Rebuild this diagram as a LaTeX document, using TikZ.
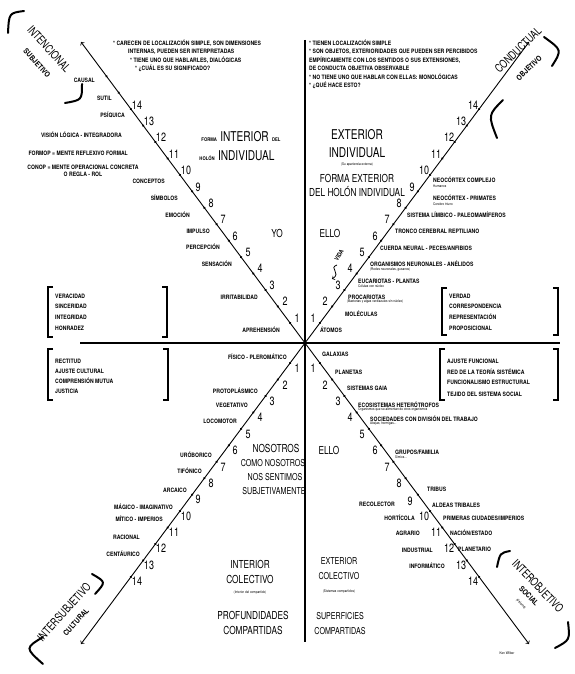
\documentclass[tikz,border=0pt]{standalone}
\usepackage{fontspec}
\usetikzlibrary{calc}
\newfontfamily\letraf[FakeStretch=0.85]{TeX Gyre Heros}
\newfontfamily\cifraf[FakeStretch=0.75]{TeX Gyre Heros}

\begin{document}
\begin{tikzpicture}[
  x=1pt, y=-1pt,
  eje/.style={->, line width=0.9pt},
  marca/.style={line width=2.4pt, line cap=round, dash pattern=on 0.1pt off 20.4pt},
  lbl/.style={font=\letraf\bfseries\fontsize{6}{6}\selectfont, inner sep=0pt},
  sub/.style={font=\letraf\fontsize{3.6}{4}\selectfont, inner sep=0pt},
  num/.style={font=\cifraf\fontsize{12}{12}\selectfont, inner sep=0pt},
  medio/.style={font=\cifraf\fontsize{11}{11}\selectfont, inner sep=0pt},
  menor/.style={font=\cifraf\fontsize{9.5}{9.5}\selectfont, inner sep=0pt},
  gran/.style={font=\cifraf\fontsize{13.5}{13.5}\selectfont, inner sep=0pt},
  titulo/.style={font=\cifraf\fontsize{11.5}{11.5}\selectfont, inner sep=0pt},
  subtitulo/.style={font=\letraf\bfseries\fontsize{7.5}{7.5}\selectfont, inner sep=0pt},
  paren/.style={line width=2pt, line cap=round},
  corchete/.style={line width=1.1pt}
]
\useasboundingbox (0,0) rectangle (574,674);

% cuadrantes
\coordinate (O) at (305,343);
\coordinate (ul) at (81,42);
\coordinate (ur) at (529,42);
\coordinate (ll) at (81,644);
\coordinate (lr) at (529,644);
\coordinate (top) at (305,40);
\coordinate (bot) at (305,642);
\coordinate (west) at (80,343);
\coordinate (east) at (560,343);

\draw[line width=1.4pt] (top) -- (bot);
\draw[line width=1.8pt] (west) -- (east);

\draw[eje] (O) -- (ul);
\draw[eje] (O) -- (ur);
\draw[eje] (O) -- (ll);
\draw[eje] (O) -- (lr);

\draw[marca] ($(O)!0.0666!(ul)$) -- ($(O)!0.8862!(ul)$);
\draw[marca] ($(O)!0.0666!(ur)$) -- ($(O)!0.8315!(ur)$);
\draw[marca] ($(O)!0.0666!(ll)$) -- ($(O)!0.8315!(ll)$);
\draw[marca] ($(O)!0.0666!(lr)$) -- ($(O)!0.8315!(lr)$);

% etiquetas de los ejes
\node[titulo, rotate=-48] (intencional) at (49,49) {INTENCIONAL};
\node[subtitulo, rotate=-48] (subjetivo) at (37,63) {SUBJETIVO};
\node[titulo, rotate=44] (conductual) at (518,50) {CONDUCTUAL};
\node[subtitulo, rotate=44] (objetivo) at (529,68) {OBJETIVO};
\node[titulo, rotate=48] (intersubjetivo) at (64,612) {INTERSUBJETIVO};
\node[subtitulo, rotate=48] (cultural) at (76,622) {CULTURAL};
\node[titulo, rotate=-46] (interobjetivo) at (538,586) {INTEROBJETIVO};
\node[subtitulo, rotate=-46] (social) at (529,596) {SOCIAL};
\node[sub, rotate=-46] (sistema) at (521,604) {(sistema)};

\draw[paren] (24,11) .. controls (9,13) .. (8,33);
\draw[paren] (82,84) .. controls (82,100) .. (65,103);
\draw[paren] (503,100) .. controls (488,115) .. (497,138);
\draw[paren] (544,37) .. controls (562,50) .. (552,66);
\draw[paren] (43,637) .. controls (25,648) .. (43,664);
\draw[paren] (92,574) .. controls (106,582) .. (95,594);
\draw[paren] (510,551) .. controls (500,553) .. (497,567);
\draw[paren] (568,622) .. controls (570,640) .. (555,648);

% textos superiores
\node[lbl, anchor=west] (tl1) at (113,43) {* CARECEN DE LOCALIZACIÓN SIMPLE, SON DIMENSIONES};
\node[lbl, anchor=west] (tl2) at (128,52) {INTERNAS, PUEDEN SER INTERPRETADAS};
\node[lbl, anchor=west] (tl3) at (130,60) {* TIENE UNO QUE HABLARLES, DIALÓGICAS};
\node[lbl, anchor=west] (tl4) at (135,68) {* ¿CUÁL ES SU SIGNIFICADO?};

\node[lbl, anchor=west] (tr1) at (309,43) {* TIENEN LOCALIZACIÓN SIMPLE};
\node[lbl, anchor=west] (tr2) at (309,52) {* SON OBJETOS, EXTERIORIDADES QUE PUEDEN SER PERCIBIDOS};
\node[lbl, anchor=west] (tr3) at (309,60) {EMPÍRICAMENTE CON LOS SENTIDOS O SUS EXTENSIONES,};
\node[lbl, anchor=west] (tr4) at (309,68) {DE CONDUCTA OBJETIVA OBSERVABLE};
\node[lbl, anchor=west] (tr5) at (309,77) {* NO TIENE UNO QUE HABLAR CON ELLAS: MONOLÓGICAS};
\node[lbl, anchor=west] (tr6) at (309,85) {* ¿QUÉ HACE ESTO?};

% cuadrante superior izquierdo
\node[lbl, anchor=east] (causal) at (95,80) {CAUSAL};
\node[lbl, anchor=east] (sutil) at (112,98) {SUTIL};
\node[lbl, anchor=east] (psiquica) at (125,115) {PSÍQUICA};
\node[lbl, anchor=east] (vision) at (122,135) {VISIÓN LÓGICA - INTEGRADORA};
\node[lbl, anchor=east] (formop) at (128,153) {FORMOP = MENTE REFLEXIVO FORMAL};
\node[lbl, align=center] (conop) at (83,171) {CONOP = MENTE OPERACIONAL CONCRETA\\[1pt]O REGLA - ROL};
\node[lbl, anchor=east] (conceptos) at (165,181) {CONCEPTOS};
\node[lbl, anchor=east] (simbolos) at (178,198) {SÍMBOLOS};
\node[lbl, anchor=east] (emocion) at (190,215) {EMOCIÓN};
\node[lbl, anchor=east] (impulso) at (210,231) {IMPULSO};
\node[lbl, anchor=east] (percepcion) at (220,247) {PERCEPCIÓN};
\node[lbl, anchor=east] (sensacion) at (232,264) {SENSACIÓN};
\node[lbl, anchor=east] (irritabilidad) at (258,297) {IRRITABILIDAD};
\node[lbl, anchor=east] (aprehension) at (280,330) {APREHENSIÓN};

\node[num] (ul1) at (297,318) {1};
\node[num] (ul2) at (285,301) {2};
\node[num] (ul3) at (272,285) {3};
\node[num] (ul4) at (260,268) {4};
\node[num] (ul5) at (248,252) {5};
\node[num] (ul6) at (235,236) {6};
\node[num] (ul7) at (223,219) {7};
\node[num] (ul8) at (211,203) {8};
\node[num] (ul9) at (198,187) {9};
\node[num] (ul10) at (186,170) {10};
\node[num] (ul11) at (174,154) {11};
\node[num] (ul12) at (161,137) {12};
\node[num] (ul13) at (149,121) {13};
\node[num] (ul14) at (137,105) {14};

\node[inner sep=0pt] (interior) at (241,137)
  {{\letraf\bfseries\fontsize{5}{5}\selectfont FORMA} {\cifraf\fontsize{13.5}{13.5}\selectfont INTERIOR} {\letraf\bfseries\fontsize{5}{5}\selectfont DEL}};
\node[inner sep=0pt] (holon) at (237,156)
  {{\letraf\bfseries\fontsize{5}{5}\selectfont HOLÓN} {\cifraf\fontsize{13.5}{13.5}\selectfont INDIVIDUAL}};
\node[medio] (yo) at (277,233) {YO};

\draw[corchete] (53,287) -- (48,287) -- (48,337) -- (53,337);
\draw[corchete] (162,287) -- (167,287) -- (167,337) -- (162,337);
\node[lbl, anchor=west] (veracidad) at (55,296) {VERACIDAD};
\node[lbl, anchor=west] (sinceridad) at (55,306) {SINCERIDAD};
\node[lbl, anchor=west] (integridad) at (55,317) {INTEGRIDAD};
\node[lbl, anchor=west] (honradez) at (55,328) {HONRADEZ};

% cuadrante superior derecho
\node[lbl, anchor=west] (complejo) at (433,180) {NEOCÓRTEX COMPLEJO};
\node[sub, anchor=west] (humanos) at (433,186) {Humanos};
\node[lbl, anchor=west] (primates) at (433,198) {NEOCÓRTEX - PRIMATES};
\node[sub, anchor=west] (triuno) at (433,204) {Cerebro triuno};
\node[lbl, anchor=west] (limbico) at (407,215) {SISTEMA LÍMBICO - PALEOMAMÍFEROS};
\node[lbl, anchor=west] (tronco) at (395,231) {TRONCO CEREBRAL REPTILIANO};
\node[lbl, anchor=west] (cuerda) at (380,248) {CUERDA NEURAL - PECES/ANFIBIOS};
\node[lbl, anchor=west] (anelidos) at (370,264) {ORGANISMOS NEURONALES - ANÉLIDOS};
\node[sub, anchor=west] (redes) at (370,270) {(Redes neuronales, gusanos)};
\node[lbl, anchor=west] (eucariotas) at (358,281) {EUCARIOTAS - PLANTAS};
\node[sub, anchor=west] (nucleo) at (358,286) {Células con núcleo};
\node[lbl, anchor=west] (procariotas) at (348,297) {PROCARIOTAS};
\node[sub, anchor=west] (bacterias) at (347,302) {(Bacterias y algas verdiazules sin núcleo)};
\node[lbl, anchor=west] (moleculas) at (345,314) {MOLÉCULAS};
\node[lbl, anchor=west] (atomos) at (320,330) {ÁTOMOS};

\node[num] (ur1) at (313,318) {1};
\node[num] (ur2) at (325,301) {2};
\node[num] (ur3) at (338,285) {3};
\node[num] (ur4) at (350,268) {4};
\node[num] (ur5) at (362,252) {5};
\node[num] (ur6) at (375,236) {6};
\node[num] (ur7) at (387,219) {7};
\node[num] (ur8) at (399,203) {8};
\node[num] (ur9) at (412,187) {9};
\node[num] (ur10) at (424,170) {10};
\node[num] (ur11) at (436,154) {11};
\node[num] (ur12) at (449,137) {12};
\node[num] (ur13) at (461,121) {13};
\node[num] (ur14) at (473,105) {14};

\node[gran] (exterior) at (357,135) {EXTERIOR};
\node[gran] (individual) at (357,153) {INDIVIDUAL};
\node[sub] (apariencia) at (357,165) {(Su apariencia externa)};
\node[medio] (forma) at (357,178) {FORMA EXTERIOR};
\node[medio] (delholon) at (357,192) {DEL HOLÓN INDIVIDUAL};
\node[medio] (ello) at (330,233) {ELLO};
\node[lbl, rotate=60] (vida) at (339,255) {VIDA};
\draw[->, line width=0.8pt] (337,265) .. controls (328,268) and (342,273) .. (332,279);

\draw[corchete] (447,288) -- (442,288) -- (442,335) -- (447,335);
\draw[corchete] (553,288) -- (558,288) -- (558,335) -- (553,335);
\node[lbl, anchor=west] (verdad) at (449,296) {VERDAD};
\node[lbl, anchor=west] (correspondencia) at (449,306) {CORRESPONDENCIA};
\node[lbl, anchor=west] (representacion) at (449,317) {REPRESENTACIÓN};
\node[lbl, anchor=west] (proposicional) at (449,328) {PROPOSICIONAL};

% cuadrante inferior izquierdo
\draw[corchete] (53,349) -- (48,349) -- (48,400) -- (53,400);
\draw[corchete] (163,349) -- (168,349) -- (168,400) -- (163,400);
\node[lbl, anchor=west] (rectitud) at (55,361) {RECTITUD};
\node[lbl, anchor=west] (ajuste) at (55,371) {AJUSTE CULTURAL};
\node[lbl, anchor=west] (comprension) at (55,381) {COMPRENSIÓN MUTUA};
\node[lbl, anchor=west] (justicia) at (55,391) {JUSTICIA};

\node[lbl, anchor=east] (fisico) at (287,357) {FÍSICO - PLEROMÁTICO};
\node[lbl, anchor=east] (protoplasmico) at (258,391) {PROTOPLÁSMICO};
\node[lbl, anchor=east] (vegetativo) at (248,405) {VEGETATIVO};
\node[lbl, anchor=east] (locomotor) at (237,421) {LOCOMOTOR};
\node[lbl, anchor=east] (uroborico) at (212,455) {URÓBORICO};
\node[lbl, anchor=east] (tifonico) at (202,471) {TIFÓNICO};
\node[lbl, anchor=east] (arcaico) at (187,490) {ARCAICO};
\node[lbl, anchor=east] (magico) at (173,507) {MÁGICO - IMAGINATIVO};
\node[lbl, anchor=east] (mitico) at (163,519) {MÍTICO - IMPERIOS};
\node[lbl, anchor=east] (racional) at (140,537) {RACIONAL};
\node[lbl, anchor=east] (centaurico) at (140,554) {CENTÁURICO};

\node[num] (ll1) at (297,368) {1};
\node[num] (ll2) at (285,385) {2};
\node[num] (ll3) at (272,401) {3};
\node[num] (ll4) at (260,417) {4};
\node[num] (ll5) at (248,434) {5};
\node[num] (ll6) at (235,450) {6};
\node[num] (ll7) at (223,467) {7};
\node[num] (ll8) at (211,483) {8};
\node[num] (ll9) at (198,499) {9};
\node[num] (ll10) at (186,516) {10};
\node[num] (ll11) at (174,532) {11};
\node[num] (ll12) at (161,548) {12};
\node[num] (ll13) at (149,565) {13};
\node[num] (ll14) at (137,581) {14};

\node[medio] (nosotros) at (276,448) {NOSOTROS};
\node[menor] (como) at (273,463) {COMO NOSOTROS};
\node[menor] (sentimos) at (275,477) {NOS SENTIMOS};
\node[menor] (subjetivamente) at (274,491) {SUBJETIVAMENTE};

\node[medio] (intcol) at (250,564) {INTERIOR};
\node[medio] (colec1) at (250,579) {COLECTIVO};
\node[sub] (compartido) at (250,593) {(Interior del compartido)};
\node[medio] (profundidades) at (253,615) {PROFUNDIDADES};
\node[medio] (compartidas1) at (253,630) {COMPARTIDAS};

% cuadrante inferior derecho
\draw[corchete] (445,349) -- (440,349) -- (440,400) -- (445,400);
\draw[corchete] (553,349) -- (558,349) -- (558,400) -- (553,400);
\node[lbl, anchor=west] (funcional) at (447,361) {AJUSTE FUNCIONAL};
\node[lbl, anchor=west] (red) at (447,372) {RED DE LA TEORÍA SISTÉMICA};
\node[lbl, anchor=west] (funcionalismo) at (447,382) {FUNCIONALISMO ESTRUCTURAL};
\node[lbl, anchor=west] (tejido) at (447,394) {TEJIDO DEL SISTEMA SOCIAL};

\node[lbl, anchor=west] (galaxias) at (322,354) {GALAXIAS};
\node[lbl, anchor=west] (planetas) at (335,372) {PLANETAS};
\node[lbl, anchor=west] (gaia) at (347,388) {SISTEMAS GAIA};
\node[lbl, anchor=west] (ecosistemas) at (358,405) {ECOSISTEMAS HETERÓTROFOS};
\node[sub, anchor=west] (organismos) at (358,410) {Organismos que se alimentan de otros organismos};
\node[lbl, anchor=west] (sociedades) at (370,419) {SOCIEDADES CON DIVISIÓN DEL TRABAJO};
\node[sub, anchor=west] (abejas) at (370,424) {Abejas, hormigas...};
\node[lbl, anchor=west] (grupos) at (395,452) {GRUPOS/FAMILIA};
\node[sub, anchor=west] (simios) at (395,457) {Simios...};
\node[lbl, anchor=west] (tribus) at (427,489) {TRIBUS};
\node[lbl, anchor=west] (aldeas) at (432,505) {ALDEAS TRIBALES};
\node[lbl, anchor=west] (ciudades) at (443,518) {PRIMERAS CIUDADES/IMPERIOS};
\node[lbl, anchor=west] (nacion) at (450,533) {NACIÓN/ESTADO};
\node[lbl, anchor=west] (planetario) at (458,549) {PLANETARIO};

\node[lbl, anchor=east] (recolector) at (395,504) {RECOLECTOR};
\node[lbl, anchor=east] (horticola) at (415,518) {HORTÍCOLA};
\node[lbl, anchor=east] (agrario) at (420,533) {AGRARIO};
\node[lbl, anchor=east] (industrial) at (433,550) {INDUSTRIAL};
\node[lbl, anchor=east] (informatico) at (445,566) {INFORMÁTICO};

\node[num] (lr1) at (313,368) {1};
\node[num] (lr2) at (325,385) {2};
\node[num] (lr3) at (338,401) {3};
\node[num] (lr4) at (350,417) {4};
\node[num] (lr5) at (362,434) {5};
\node[num] (lr6) at (375,450) {6};
\node[num] (lr7) at (387,467) {7};
\node[num] (lr8) at (399,483) {8};
\node[num] (lr9) at (410,501) {9};
\node[num] (lr10) at (424,516) {10};
\node[num] (lr11) at (436,532) {11};
\node[num] (lr12) at (449,548) {12};
\node[num] (lr13) at (461,565) {13};
\node[num] (lr14) at (473,581) {14};

\node[medio] (ello2) at (329,450) {ELLO};
\node[menor] (extcol) at (339,561) {EXTERIOR};
\node[menor] (colec2) at (339,576) {COLECTIVO};
\node[sub] (sistemas) at (339,592) {(Sistemas compartidos)};
\node[menor] (superficies) at (340,616) {SUPERFICIES};
\node[menor] (compartidas2) at (340,631) {COMPARTIDAS};

\node[sub] (firma) at (507,653) {Ken Wilber};
\end{tikzpicture}
\end{document}
